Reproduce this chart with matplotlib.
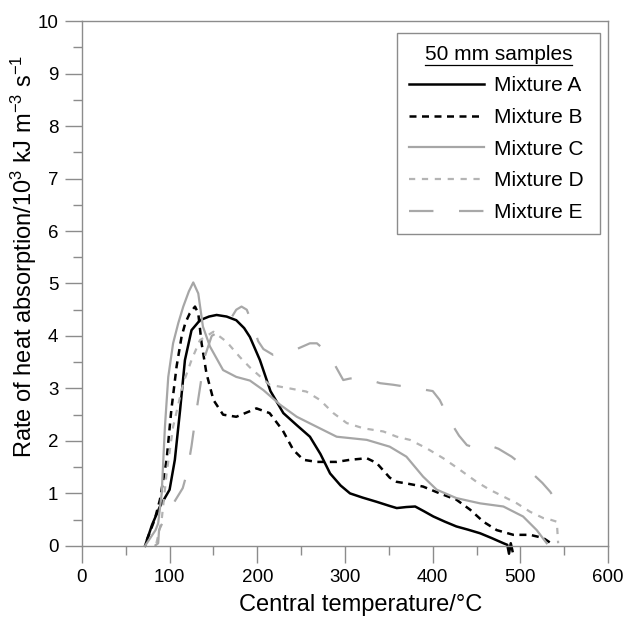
import matplotlib
matplotlib.use("Agg")
import matplotlib.pyplot as plt
from matplotlib.lines import Line2D

plt.rcParams["font.family"] = ["Liberation Sans", "DejaVu Sans"]
plt.rcParams["mathtext.fontset"] = "custom"
plt.rcParams["mathtext.rm"] = "Liberation Sans"
plt.rcParams["mathtext.it"] = "Liberation Sans:italic"

# curves (central temperature / degC, rate / 10^3 kJ m^-3 s^-1)
temp_a = [72, 80, 89, 100, 106, 112, 117.5, 125, 134.6, 145, 153.6, 165, 176, 185,
          191.6, 203, 215, 229.7, 245, 260, 272, 283, 295, 305.7, 320, 336, 351,
          359, 370, 380, 390, 400.7, 414, 427, 440, 454, 467, 480.6, 485, 487, 489, 491]
rate_a = [0.0, 0.4, 0.75, 1.07, 1.64, 2.59, 3.54, 4.11, 4.3, 4.37, 4.4, 4.37, 4.3, 4.15,
          3.98, 3.54, 2.95, 2.53, 2.3, 2.08, 1.75, 1.38, 1.15, 1.0, 0.92, 0.84, 0.76,
          0.72, 0.74, 0.75, 0.66, 0.56, 0.46, 0.37, 0.31, 0.24, 0.15, 0.05, 0.02, -0.15, 0.05, -0.1]

temp_b = [74, 83, 89, 96.6, 102, 108, 113.7, 118, 123, 129, 132.7, 136.5, 142, 150,
          161, 176, 195, 199, 214, 229, 241, 252.5, 267.7, 290.5, 305.7, 324.8, 336,
          351, 359, 370, 389, 408, 427, 442.6, 457.8, 473, 492, 511, 526, 537.6]
rate_b = [0.11, 0.5, 0.88, 1.64, 2.59, 3.42, 3.99, 4.25, 4.43, 4.56, 4.43, 3.86, 3.29, 2.78,
          2.5, 2.46, 2.59, 2.62, 2.53, 2.2, 1.83, 1.64, 1.6, 1.6, 1.64, 1.67, 1.58,
          1.3, 1.22, 1.19, 1.13, 1.0, 0.88, 0.69, 0.46, 0.3, 0.21, 0.21, 0.15, 0.02]

temp_c = [72, 78, 84, 87, 91, 94.7, 98.5, 104, 110, 115.6, 122, 127, 132.7, 138, 146,
          161, 176, 191.6, 206.8, 226, 245, 267.7, 290.5, 324.8, 351, 370, 389,
          404.6, 427, 454, 480.6, 503, 518.6, 530]
rate_c = [0.0, 0.15, 0.3, 0.43, 1.0, 2.27, 3.22, 3.86, 4.25, 4.56, 4.85, 5.02, 4.81, 4.18, 3.8,
          3.35, 3.22, 3.15, 2.97, 2.69, 2.46, 2.27, 2.08, 2.02, 1.89, 1.7, 1.32,
          1.07, 0.91, 0.81, 0.75, 0.56, 0.3, 0.05]

temp_d = [85, 91, 96.6, 104, 115.6, 125, 134.6, 150, 165, 180, 191.6, 214, 237, 256,
          271.5, 286.7, 302, 321, 343.7, 359, 374, 393, 412, 431, 450, 465, 480.6,
          496, 511, 526, 534, 541.5, 543]
rate_d = [0.05, 0.5, 1.38, 2.27, 3.1, 3.54, 3.92, 4.08, 3.89, 3.6, 3.4, 3.07, 3.0, 2.94,
          2.78, 2.53, 2.34, 2.24, 2.18, 2.08, 2.02, 1.86, 1.67, 1.45, 1.22, 1.07, 0.94,
          0.81, 0.65, 0.53, 0.5, 0.46, 0.05]

temp_e = [83, 87, 88, 95, 104, 115, 120, 125, 130, 135, 140, 148, 156, 165, 176, 182,
          188, 195, 201, 207, 218, 230, 245, 260, 268, 281, 290, 298, 306, 323, 340,
          355, 382, 400, 408, 420, 430, 439, 450, 464, 475, 490, 511, 525, 534, 549]
rate_e = [0.0, 0.05, 0.3, 0.55, 0.8, 1.1, 1.4, 1.9, 2.5, 3.05, 3.6, 4.0, 4.08, 4.2, 4.5, 4.56,
          4.5, 4.2, 3.9, 3.75, 3.64, 3.67, 3.75, 3.86, 3.86, 3.67, 3.4, 3.16, 3.19, 3.19, 3.1,
          3.07, 3.0, 2.95, 2.78, 2.37, 2.1, 1.92, 1.86, 1.92, 1.85, 1.7, 1.42, 1.2, 1.03, 0.65]

labels = ["Mixture A", "Mixture B", "Mixture C", "Mixture D", "Mixture E"]

axis_grey = "#8c8c8c"

fig = plt.figure(figsize=(6.25, 6.21), dpi=100)
ax = fig.add_axes([0.131, 0.121, 0.842, 0.845])

ax.plot(temp_a, rate_a, color="black", lw=1.8, label=labels[0], clip_on=False)
ax.plot(temp_b, rate_b, color="black", lw=1.8, dashes=(2.8, 2.2), label=labels[1])
ax.plot(temp_c, rate_c, color="#a6a6a6", lw=1.6, label=labels[2])
ax.plot(temp_d, rate_d, color="#b4b4b4", lw=1.6, dashes=(2.8, 3.0), label=labels[3])
ax.plot(temp_e, rate_e, color="#a8a8a8", lw=1.6, dashes=(11, 11.5), label=labels[4])

ax.set_xlim(0, 600)
ax.set_ylim(0, 10)
ax.set_xticks(range(0, 601, 100))
ax.set_xticks(range(50, 600, 100), minor=True)
ax.set_yticks(range(0, 11))
ax.set_yticks([i + 0.5 for i in range(10)], minor=True)
ax.tick_params(which="major", length=12, width=1, color=axis_grey,
               labelsize=13.5, pad=5)
ax.tick_params(which="minor", length=6.5, width=1, color=axis_grey)
for sp in ax.spines.values():
    sp.set_color(axis_grey)
    sp.set_linewidth(1)

ax.set_xlabel("Central temperature/°C", fontsize=17)
ax.set_ylabel("Rate of heat absorption/10$^{3}$ kJ m$^{-3}$ s$^{-1}$",
              fontsize=17)
ax.xaxis.set_label_coords(0.53, -0.091)
ax.yaxis.set_label_coords(-0.082, 0.552)

leg = ax.legend(loc="upper left", bbox_to_anchor=(0.599, 0.977, 0.386, 0.0),
                mode="expand", borderaxespad=0, fontsize=15,
                title="50 mm samples", title_fontsize=15,
                fancybox=False, edgecolor=axis_grey, framealpha=1,
                handlelength=3.6, handletextpad=0.48, labelspacing=0.61,
                borderpad=0.55)
leg.get_frame().set_linewidth(1)

# underline the legend title
fig.canvas.draw()
bb = leg.get_title().get_window_extent()
W, H = fig.get_size_inches() * fig.dpi
fig.add_artist(Line2D([bb.x0 / W, bb.x1 / W], [(bb.y0 - 1) / H] * 2,
                      color="black", lw=0.9))

fig.savefig("out.png", dpi=100)
